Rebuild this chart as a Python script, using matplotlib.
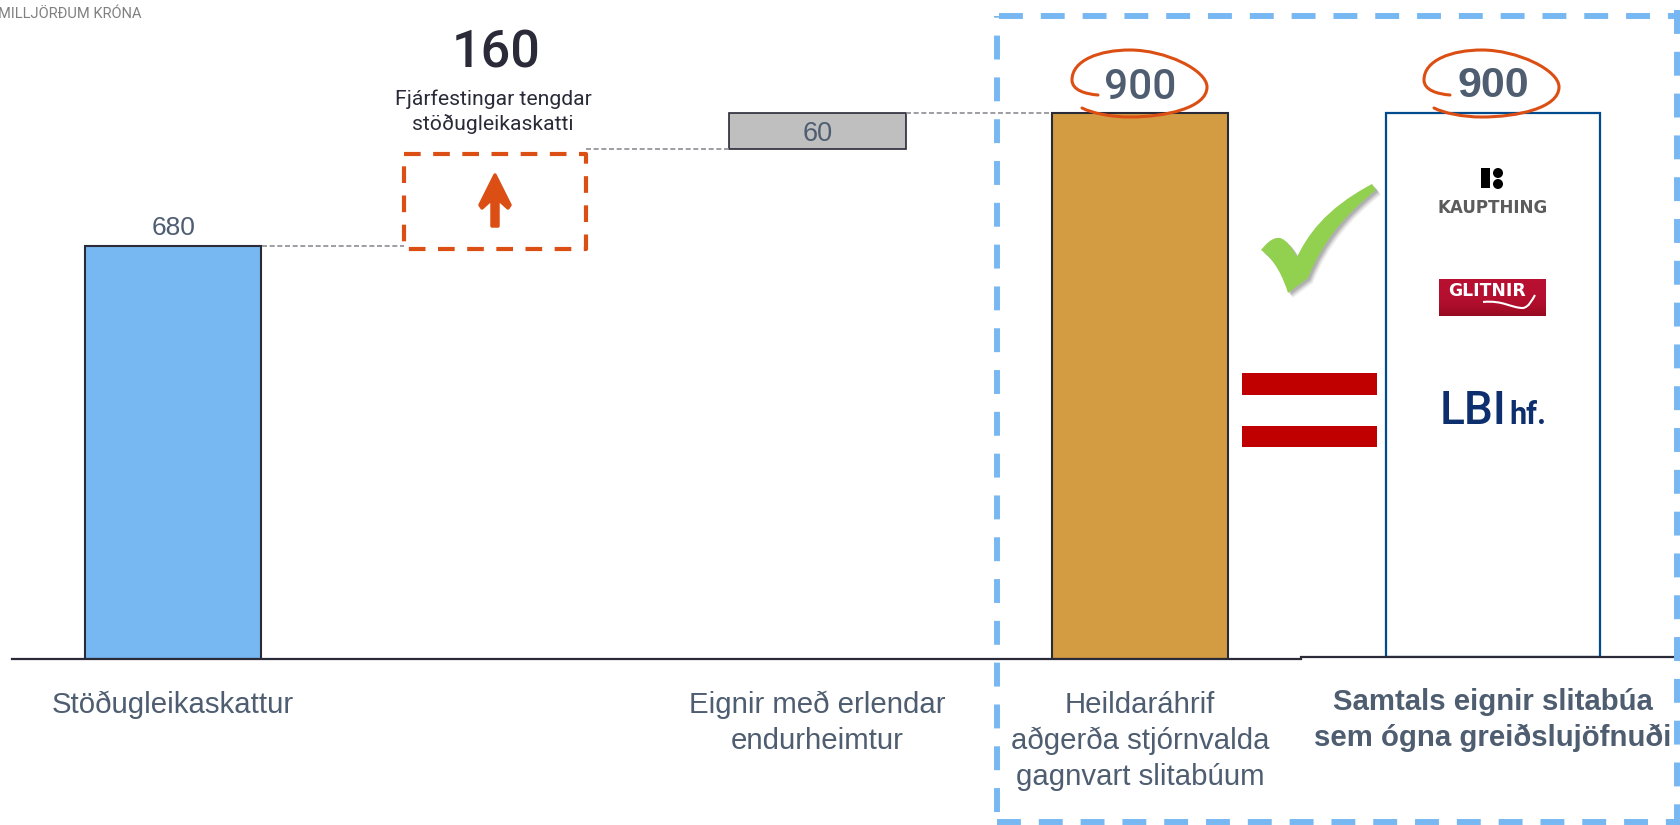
import matplotlib
matplotlib.use('Agg')
import matplotlib.pyplot as plt
import numpy as np
from matplotlib.path import Path
from matplotlib.patches import PathPatch, Rectangle, Polygon, Circle
from matplotlib.colors import LinearSegmentedColormap

# chart values, milljarðar króna
categories = ['Stöðugleikaskattur', '', 'Eignir með erlendar\nendurheimtur',
              'Heildaráhrif\naðgerða stjórnvalda\ngagnvart slitabúum']
values = [680, 160, 60, 900]
bottoms = [0, 680, 840, 0]
total_label = 'Samtals eignir slitabúa\nsem ógna greiðslujöfnuði'
total_value = 900
unit_label = 'MILLJÖRÐUM KRÓNA'
callout_value = '160'
callout_text = 'Fjárfestingar tengdar\nstöðugleikaskatti'

W, H = 1680, 825
SLATE = '#4e5d70'
INK = '#2a2a38'
ORANGE = '#dc4f14'
BLUE = '#78b8f2'
ARIAL = 'Liberation Sans'
DIN = 'Roboto'

fig = plt.figure(figsize=(W / 100, H / 100), dpi=100, facecolor='white')

# left chart
ax = fig.add_axes([12 / W, (H - 659) / H, 1289 / W, 659 / H])
ax.bar(0, values[0], 0.548, bottom=bottoms[0], color=BLUE, edgecolor=INK, linewidth=1.5)
ax.bar(2, values[2], 0.548, bottom=bottoms[2], color='#bfbfbf', edgecolor=INK, linewidth=1.2)
ax.bar(3, values[3], 0.548, bottom=bottoms[3], color='#d49c42', edgecolor=INK, linewidth=1.5)
ax.set_xlim(-0.5, 3.5)
ax.set_ylim(0, 1086)
ax.set_xticks(range(4))
ax.set_xticklabels(categories, fontsize=21.2, color=SLATE, family=ARIAL, linespacing=1.36)
ax.tick_params(axis='x', length=0, pad=23)
ax.set_yticks([])
for s in ['top', 'left', 'right']:
    ax.spines[s].set_visible(False)
ax.spines['bottom'].set_color(INK)
ax.spines['bottom'].set_linewidth(1.6)

# leader lines between the steps
leader = dict(color='#8c8c92', linewidth=1.2, linestyle=(0, (3, 1.6)))
ax.plot([0.275, 0.716], [values[0], values[0]], **leader)
ax.plot([1.28, 1.725], [840, 840], **leader)
ax.plot([2.275, 2.725], [900, 900], **leader)

ax.annotate(str(values[0]), (0, values[0]), xytext=(0, 13), textcoords='offset points',
            ha='center', va='center', fontsize=19, color=SLATE, family=ARIAL)
ax.text(2, bottoms[2] + values[2] / 2, str(values[2]), ha='center', va='center_baseline',
        fontsize=19.5, color=SLATE, family=ARIAL)
ax.annotate(str(values[3]), (3, values[3]), xytext=(0, 18), textcoords='offset points',
            ha='center', va='center', fontsize=30.5, color=SLATE, family=DIN, weight='medium')

# right chart, its baseline sits 2 px higher
ax2 = fig.add_axes([1301 / W, (H - 657) / H, 379 / W, 657 / H])
ax2.bar(0, total_value, 1, color='white', edgecolor='#004b8d', linewidth=1.6)
ax2.set_xlim(-192 / 214, 187 / 214)
ax2.set_ylim(0, 1086)
ax2.set_xticks([0])
ax2.set_xticklabels([total_label], fontsize=21.2, color=SLATE, family=ARIAL, weight='bold', linespacing=1.36)
ax2.tick_params(axis='x', length=0, pad=22)
ax2.set_yticks([])
for s in ['top', 'left', 'right']:
    ax2.spines[s].set_visible(False)
ax2.spines['bottom'].set_color(INK)
ax2.spines['bottom'].set_linewidth(1.6)
ax2.annotate(str(total_value), (0, total_value), xytext=(0, 19), textcoords='offset points',
             ha='center', va='center', fontsize=31, color=SLATE, family=ARIAL, weight='bold')

# overlay in pixel coordinates for the hand drawn pieces
ov = fig.add_axes([0, 0, 1, 1], zorder=5)
ov.patch.set_alpha(0)
ov.axis('off')

ov.text(-2, 14, unit_label, fontsize=10.5, color='#808080', family=DIN, ha='left', va='center')
ov.text(496, 53, callout_value, fontsize=37.5, color=INK, family=DIN, weight='medium', ha='center', va='center')
ov.text(493, 112, callout_text, fontsize=15.2, color=INK, family=DIN, ha='center', va='center', linespacing=1.32)

# orange dashed box and arrow
ov.add_patch(Rectangle((404, 154), 182, 95, fill=False, edgecolor=ORANGE, linewidth=3,
                       linestyle=(0, (4, 3)), joinstyle='round'))
ov.add_patch(Polygon([(495, 175), (510, 205), (508, 208), (498, 199), (498, 226), (492, 226), (492, 199), (482, 208), (480, 205)],
                     closed=True, facecolor=ORANGE, edgecolor=ORANGE, linewidth=2.5, joinstyle='round'))

# freehand rings round the 900 labels
ring_x = np.array([1098, 1085, 1072, 1072, 1072, 1100, 1130, 1165, 1207, 1207, 1207, 1165, 1130, 1110, 1092, 1082])
ring_y = np.array([95, 94, 90, 80, 60, 50, 50, 50, 70, 87, 108, 117, 117, 117, 113, 108])
ring_codes = [Path.MOVETO] + [Path.CURVE4] * 15
for dx in [0, 352]:
    ov.add_patch(PathPatch(Path(np.column_stack([ring_x + dx, ring_y]), ring_codes),
                           fill=False, edgecolor=ORANGE, linewidth=2.2, capstyle='round'))

# equals sign
ov.add_patch(Rectangle((1242, 373), 135, 22, color='#c00000', linewidth=0))
ov.add_patch(Rectangle((1242, 426), 135, 21, color='#c00000', linewidth=0))

# check mark with a soft shadow
check = np.array([(1376, 190), (1372, 184), (1323, 210), (1307, 237), (1297, 257),
                  (1292, 248), (1287, 240), (1280, 238), (1272, 237), (1266, 244), (1261, 250),
                  (1275, 260), (1283, 277), (1288, 293), (1308, 278),
                  (1323, 240), (1347, 213), (1376, 190), (1376, 190)], dtype=float)
check_codes = [Path.MOVETO, Path.LINETO] + [Path.CURVE4] * 9 + [Path.CURVE4] * 3 + [Path.LINETO] + [Path.CURVE4] * 3 + [Path.CLOSEPOLY]
for off, a in [(5, 0.08), (4, 0.12), (3, 0.16), (2, 0.2)]:
    ov.add_patch(PathPatch(Path(check + off, check_codes), facecolor='#555555', alpha=a, linewidth=0))
ov.add_patch(PathPatch(Path(check, check_codes), facecolor='#92d050', linewidth=0))

# logos inside the total bar
ov.add_patch(Rectangle((1481, 168), 9, 20, color='black', linewidth=0))
ov.add_patch(Circle((1498, 173), 5, color='black', linewidth=0))
ov.add_patch(Circle((1498, 184), 5, color='black', linewidth=0))
ov.text(1493, 208, 'KAUPTHING', fontsize=12.1, color='#333333', family='DejaVu Sans', weight='bold',
        ha='center', va='center', alpha=0.8)

grad = np.linspace(0, 1, 40)[:, None] ** 3
ov.imshow(grad, extent=(1439, 1546, 316, 279), aspect='auto',
          cmap=LinearSegmentedColormap.from_list('g', ['#b81030', '#960a20']))
ov.text(1487, 291, 'GLITNIR', fontsize=12.3, color='white', family='DejaVu Sans', weight='bold', ha='center', va='center')
wave = [(1483, 302), (1503, 300), (1511, 308), (1523, 308), (1529, 307), (1532, 300), (1535, 295)]
ov.add_patch(PathPatch(Path(wave, [Path.MOVETO] + [Path.CURVE4] * 6), fill=False, edgecolor='white', linewidth=1.5))

ov.text(1440, 424, 'LBI', fontsize=33, color='#0e2f6e', family=DIN, weight='medium', ha='left', va='baseline')
ov.text(1509, 424, 'hf.', fontsize=22, color='#0e2f6e', family=DIN, weight='bold', ha='left', va='baseline')

# big dashed frame, four sides so the dashes start where they do in the original
frame = dict(color=BLUE, linewidth=4.3, linestyle=(0, (4, 3)), dash_capstyle='butt')
ov.plot([999, 1680], [16, 16], **frame)
ov.plot([1677, 1677], [10, 825], **frame)
ov.plot([997, 997], [812, 16], **frame)
ov.plot([997, 1680], [822, 822], **frame)

ov.set_xlim(0, W)
ov.set_ylim(H, 0)

fig.savefig('out.png', dpi=100)
